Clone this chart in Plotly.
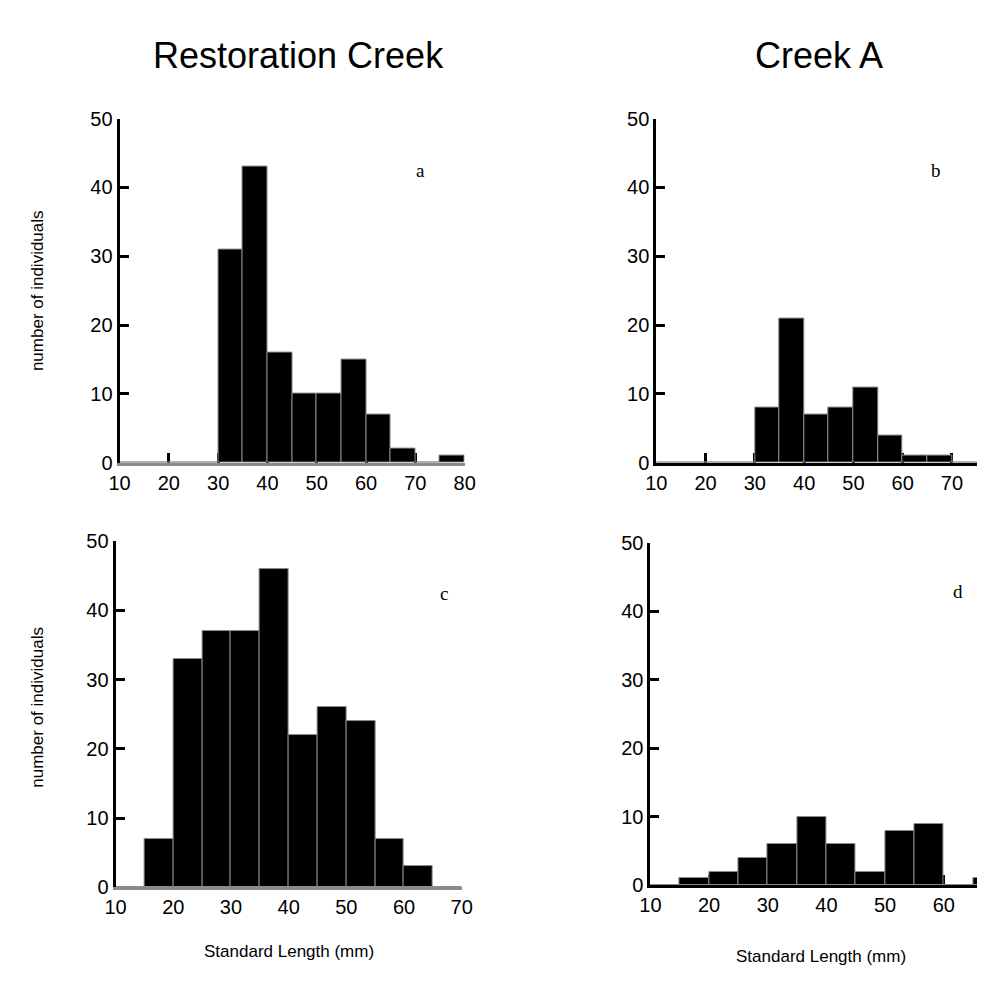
import plotly.graph_objects as go

W, H = 988, 998

# ---- data (bin left edges in mm, counts) ----
bin_width = 5
a_left = [10, 15, 20, 25, 30, 35, 40, 45, 50, 55, 60, 65, 70, 75]
a_counts = [0, 0, 0, 0, 31, 43, 16, 10, 10, 15, 7, 2, 0, 1]
b_left = [10, 15, 20, 25, 30, 35, 40, 45, 50, 55, 60, 65, 70, 75]
b_counts = [0, 0, 0, 0, 8, 21, 7, 8, 11, 4, 1, 1, 0, 0]
c_left = [10, 15, 20, 25, 30, 35, 40, 45, 50, 55, 60, 65]
c_counts = [0, 7, 33, 37, 37, 46, 22, 26, 24, 7, 3, 0]
d_left = [10, 15, 20, 25, 30, 35, 40, 45, 50, 55, 60, 65]
d_counts = [0, 1, 2, 4, 6, 10, 6, 2, 8, 9, 0, 1]

a_ticks = [10, 20, 30, 40, 50, 60, 70, 80]
b_ticks = [10, 20, 30, 40, 50, 60, 70, 80]
c_ticks = [10, 20, 30, 40, 50, 60, 70]
d_ticks = [10, 20, 30, 40, 50, 60, 70]
y_ticks = [0, 10, 20, 30, 40, 50]

col_titles = ["Restoration Creek", "Creek A"]
y_title = "number of individuals"
x_title = "Standard Length (mm)"
letters = ["a", "b", "c", "d"]


def fx(px):
    return px / W


def fy(py):
    return 1 - py / H


panels = [
    dict(l=111, r=464, t=110, b=462, xr=[10, 80], left=a_left, counts=a_counts, ticks=a_ticks, lc="#8c8c8c", let=(71, 42.5)),
    dict(l=660, r=988, t=110, b=462, xr=[10, 10 + (988 - 660) / 5.04], left=b_left, counts=b_counts, ticks=b_ticks, lc="black", let=(66.8, 42.5)),
    dict(l=107, r=461, t=542, b=896, xr=[10, 70], left=c_left, counts=c_counts, ticks=c_ticks, lc="#8c8c8c", let=(67, 42.4)),
    dict(l=654, r=988, t=544, b=894, xr=[10, 10 + (988 - 654) / 6.0], left=d_left, counts=d_counts, ticks=d_ticks, lc="black", let=(62.5, 42.9)),
]

fig = go.Figure()
layout = dict(
    width=W, height=H, margin=dict(l=0, r=0, t=0, b=0),
    paper_bgcolor="white", plot_bgcolor="white", showlegend=False,
    bargap=0,
)
annotations = []
tickfont = dict(family="Liberation Sans, Arial", size=20, color="black")

for i, p in enumerate(panels):
    n = "" if i == 0 else str(i + 1)
    xa, ya = "x" + n, "y" + n
    centers = [v + bin_width / 2 for v in p["left"]]
    fig.add_trace(go.Bar(
        x=centers, y=p["counts"], width=[bin_width] * len(centers),
        marker=dict(color="black", line=dict(color="#8a8a8a", width=1)),
        xaxis=xa, yaxis=ya, hoverinfo="skip",
    ))
    layout["xaxis" + n] = dict(
        domain=[fx(p["l"]), fx(p["r"])], range=p["xr"], anchor=ya,
        tickvals=p["ticks"], ticktext=[str(t) for t in p["ticks"]],
        ticks="inside", ticklen=10, tickwidth=3, tickcolor="black",
        showline=True, linecolor=p["lc"], linewidth=3,
        showgrid=False, zeroline=False, layer="below traces",
        tickfont=tickfont, ticklabelstandoff=0,
    )
    layout["yaxis" + n] = dict(
        domain=[fy(p["b"]), fy(p["t"])], range=[0, 50], anchor=xa,
        tickvals=y_ticks, ticks="inside", ticklen=9, tickwidth=3, tickcolor="black",
        showline=True, linecolor="black", linewidth=3,
        showgrid=False, zeroline=False, layer="above traces",
        tickfont=tickfont, ticklabelstandoff=0,
    )
    annotations.append(dict(
        x=p["let"][0], y=p["let"][1], xref=xa, yref=ya, text=letters[i],
        xanchor="center", yanchor="middle", showarrow=False,
        font=dict(family="Liberation Serif, Times New Roman", size=19, color="black"),
    ))

# column titles
for txt, cx in zip(col_titles, [294, 826]):
    annotations.append(dict(
        x=fx(cx), y=fy(45), xref="paper", yref="paper", text=txt, showarrow=False,
        xanchor="center", yanchor="middle",
        font=dict(family="Liberation Sans, Arial", size=36, color="black"),
    ))
# y titles
for cy in [286, 712]:
    annotations.append(dict(
        x=fx(27), y=fy(cy), xref="paper", yref="paper", text=y_title, showarrow=False,
        xanchor="center", yanchor="middle", textangle=-90,
        font=dict(family="Liberation Sans, Arial", size=17, color="black"),
    ))
# x titles
for cx, cy in [(284, 962), (828, 967)]:
    annotations.append(dict(
        x=fx(cx), y=fy(cy), xref="paper", yref="paper", text=x_title, showarrow=False,
        xanchor="center", yanchor="middle",
        font=dict(family="Liberation Sans, Arial", size=17, color="black"),
    ))

layout["annotations"] = annotations
fig.update_layout(**layout)
fig.write_html("out.html")
